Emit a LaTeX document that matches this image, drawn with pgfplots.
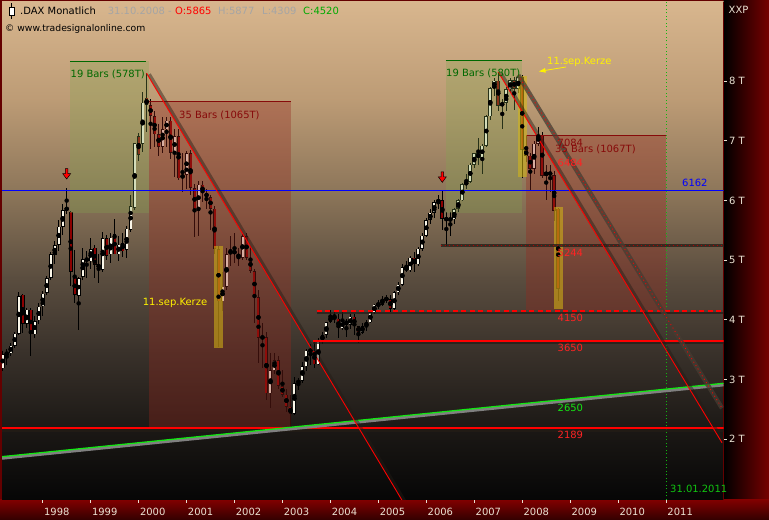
\documentclass[border=0pt]{standalone}
\usepackage{pgfplots}
\pgfplotsset{compat=1.18}
\usepackage{pgfplotstable}
\usepackage{fontspec}
\setmainfont{DejaVu Sans}
\usetikzlibrary{arrows.meta}

\definecolor{framec}{RGB}{100,0,0}
\definecolor{bg0}{RGB}{216,182,142}
\definecolor{bg1}{RGB}{188,155,117}
\definecolor{bg2}{RGB}{136,114,87}
\definecolor{bg3}{RGB}{90,77,63}
\definecolor{bg4}{RGB}{58,50,43}
\definecolor{bg5}{RGB}{27,24,21}
\definecolor{bg6}{RGB}{6,6,6}
\definecolor{upc}{RGB}{250,246,232}
\definecolor{dnc}{RGB}{140,0,0}
\definecolor{greenreg}{RGB}{130,165,80}
\definecolor{redreg}{RGB}{150,40,30}
\definecolor{boxc}{RGB}{215,185,20}
\definecolor{dkgreen}{RGB}{0,105,0}
\definecolor{dkred}{RGB}{135,10,10}
\definecolor{lred}{RGB}{255,35,35}
\definecolor{lgreen}{RGB}{20,230,20}
\definecolor{tickc}{RGB}{235,225,210}
\definecolor{shadowc}{RGB}{35,28,22}
\definecolor{bandc}{RGB}{70,60,50}
\definecolor{lvlc}{RGB}{45,36,28}
\definecolor{hgray}{RGB}{165,165,165}
\definecolor{hgreen}{RGB}{0,170,0}

\newcommand{\f}{\fontsize{10}{12}\selectfont}

% monthly DAX candles, t = months since Jan 1997
\pgfplotstableread{
t o h l c
2 3190 3480 3150 3430
3 3430 3520 3250 3440
4 3440 3620 3400 3570
5 3570 3800 3530 3770
6 3770 4460 3740 4400
7 4420 4440 3780 3930
8 3930 4200 3860 4170
9 4170 4200 3390 3760
10 3760 4060 3690 3980
11 3990 4290 3930 4220
12 4230 4490 4070 4440
13 4450 4740 4410 4700
14 4700 5130 4660 5100
15 5090 5320 4930 5250
16 5260 5680 5160 5560
17 5560 5940 5420 5840
18 5850 6217 5780 5870
19 5810 5830 4560 4810
20 4720 5170 4280 4420
21 4400 4720 3833 4700
22 4720 5200 4660 5020
23 5020 5150 4700 5000
24 4980 5380 4850 5180
25 5210 5250 4700 4920
26 4930 5100 4610 4870
27 4840 5480 4800 5370
28 5370 5420 5000 5070
29 5100 5450 4950 5380
30 5440 5690 5100 5100
31 5100 5400 4980 5260
32 5290 5460 5050 5150
33 5170 5580 5040 5530
34 5510 6100 5480 5900
35 5880 6960 5840 6958
36 7080 7130 6660 6770
37 6950 7820 6820 7640
38 7720 8136 7150 7600
39 7600 7700 6870 7414
40 7414 7500 6900 7110
41 7110 7280 6750 6898
42 6898 7400 6800 7192
43 7192 7400 6900 7335
44 7335 7400 6700 6798
45 6798 7200 6400 7078
46 7078 7200 6350 6372
47 6372 6800 6150 6434
48 6434 6830 6200 6795
49 6795 6850 6100 6208
50 6208 6280 5390 5830
51 5830 6320 5400 6265
52 6265 6330 5980 6123
53 6123 6200 5850 6058
54 6058 6100 5500 5862
55 5862 5900 5100 5188
56 5188 5236 3540 4308
57 4308 4800 4150 4559
58 4559 5200 4500 5103
59 5103 5400 4900 5160
60 5160 5450 4950 5108
61 5108 5200 4900 5039
62 5039 5460 5000 5397
63 5397 5450 5000 5041
64 5041 5240 4780 4818
65 4818 4850 3950 4383
66 4383 4500 3270 3700
67 3700 3950 3200 3712
68 3712 3800 2650 2769
69 2769 3450 2520 3153
70 3153 3450 3100 3320
71 3320 3400 2850 2893
72 2893 3160 2700 2748
73 2748 2850 2450 2547
74 2547 2750 2189 2424
75 2424 3050 2400 2942
76 2942 3030 2820 2983
77 2983 3300 2950 3221
78 3221 3520 3150 3487
79 3487 3600 3250 3485
80 3485 3650 3200 3257
81 3257 3700 3250 3655
82 3655 3800 3600 3746
83 3746 3970 3700 3965
84 3965 4160 3950 4058
85 4058 4170 3950 4018
86 4018 4100 3690 3857
87 3857 4150 3830 3985
88 3985 4010 3710 3921
89 3921 4100 3850 4053
90 4053 4100 3750 3895
91 3895 3900 3620 3785
92 3785 3950 3760 3893
93 3893 4000 3810 3960
94 3960 4150 3950 4126
95 4126 4270 4100 4256
96 4256 4330 4190 4255
97 4255 4400 4240 4350
98 4350 4420 4280 4349
99 4349 4420 4130 4185
100 4185 4480 4150 4461
101 4461 4640 4420 4587
102 4587 4930 4570 4887
103 4887 4980 4800 4830
104 4830 5070 4800 5044
105 5044 5140 4800 4929
106 4929 5220 4900 5193
107 5193 5460 5160 5408
108 5408 5700 5390 5674
109 5674 5860 5600 5796
110 5796 6000 5700 5970
111 5970 6090 5850 6009
112 6009 6162 5500 5692
113 5692 5800 5244 5683
114 5683 5800 5400 5682
115 5682 5880 5600 5859
116 5859 6020 5800 6005
117 6005 6300 5990 6269
118 6269 6450 6200 6309
119 6309 6620 6290 6597
120 6597 6800 6550 6789
121 6789 7040 6600 6716
122 6716 6950 6440 6917
123 6917 7430 6900 7409
124 7409 7900 7350 7883
125 7883 8060 7750 8007
126 8007 8151 7500 7584
127 7584 7700 7200 7638
128 7638 7900 7500 7862
129 7862 8060 7800 8019
130 8019 8070 7520 7871
131 7871 8100 7800 8067
132 8067 8100 6384 6852
133 6852 7100 6650 6748
134 6748 6800 6167 6535
135 6535 6990 6450 6949
136 6949 7230 6920 7097
137 7097 7150 6380 6418
138 6418 6600 6000 6480
139 6480 6600 6150 6422
140 6422 6500 5650 5831
141 5865 5877 4309 4520
}\dax

\pgfdeclareplotmark{dnarrow}{%
  \pgfpathmoveto{\pgfqpoint{-1.3pt}{19pt}}%
  \pgfpathlineto{\pgfqpoint{1.3pt}{19pt}}%
  \pgfpathlineto{\pgfqpoint{1.3pt}{14pt}}%
  \pgfpathlineto{\pgfqpoint{4pt}{14pt}}%
  \pgfpathlineto{\pgfqpoint{0pt}{8.5pt}}%
  \pgfpathlineto{\pgfqpoint{-4pt}{14pt}}%
  \pgfpathlineto{\pgfqpoint{-1.3pt}{14pt}}%
  \pgfpathclose
  \pgfusepathqfillstroke}

\begin{document}
\begin{tikzpicture}[x=1bp,y=1bp]
\useasboundingbox (0,0) rectangle (769,520);
% frame and bands
\fill[framec] (0,0) rectangle (769,520);
\shade[left color=black, middle color={rgb,255:red,25;green,0;blue,0}, right color={rgb,255:red,118;green,0;blue,0}] (723.5,20) rectangle (769,520);
\shade[top color={rgb,255:red,128;green,0;blue,0}, bottom color={rgb,255:red,50;green,0;blue,0}] (0,0) rectangle (769,20);
% plot background
\shade[top color=bg0, bottom color=bg1] (2,419.5) rectangle (723.5,518);
\shade[top color=bg1, bottom color=bg2] (2,319.5) rectangle (723.5,420);
\shade[top color=bg2, bottom color=bg3] (2,241.5) rectangle (723.5,320);
\shade[top color=bg3, bottom color=bg4] (2,169.5) rectangle (723.5,242);
\shade[top color=bg4, bottom color=bg5] (2,89.5) rectangle (723.5,170);
\shade[top color=bg5, bottom color=bg6] (2,20) rectangle (723.5,90);
\draw[framec, line width=0.8] (723.5,20) -- (723.5,518);

\begin{axis}[
  at={(2bp,20bp)}, anchor=south west,
  width=721.5bp, height=498bp, scale only axis,
  xmin=1.815, xmax=182.37, ymin=983, ymax=9325,
  axis x line*=bottom, axis y line*=right,
  axis line style={draw=none},
  xtick={12,24,36,48,60,72,84,96,108,120,132,144,156,168},
  xticklabels={1998,1999,2000,2001,2002,2003,2004,2005,2006,2007,2008,2009,2010,2011},
  ytick={2000,3000,4000,5000,6000,7000,8000},
  yticklabels={2 T,3 T,4 T,5 T,6 T,7 T,8 T},
  tick align=outside, major tick length=3bp,
  tick style={color=tickc, line width=0.9bp},
  xticklabel style={anchor=north west, font=\f, text=tickc, inner xsep=1.2bp, yshift=-2bp},
  yticklabel style={anchor=west, font=\f, text=tickc, inner xsep=2.5bp},
]
% wicks
\addplot[only marks, mark=none, forget plot,
  error bars/.cd, y dir=both, y explicit, error mark=none,
  error bar style={black, line width=0.9bp}]
  table[x=t, y expr={(\thisrow{h}+\thisrow{l})/2}, y error expr={(\thisrow{h}-\thisrow{l})/2}] {\dax};
% body outlines
\addplot[only marks, mark=none, forget plot,
  error bars/.cd, y dir=both, y explicit, error mark=none,
  error bar style={black, line width=3.7bp}]
  table[x=t, y expr={(\thisrow{o}+\thisrow{c})/2}, y error expr={max(abs(\thisrow{c}-\thisrow{o})/2,14)}] {\dax};
% rising bodies
\addplot[only marks, mark=none, forget plot,
  error bars/.cd, y dir=both, y explicit, error mark=none,
  error bar style={upc, line width=2bp}]
  table[x=t, y expr={\thisrow{c}<\thisrow{o} ? nan : (\thisrow{o}+\thisrow{c})/2}, y error expr={max(abs(\thisrow{c}-\thisrow{o})/2-10,4)}] {\dax};
% falling bodies
\addplot[only marks, mark=none, forget plot,
  error bars/.cd, y dir=both, y explicit, error mark=none,
  error bar style={dnc, line width=2bp}]
  table[x=t, y expr={\thisrow{c}<\thisrow{o} ? (\thisrow{o}+\thisrow{c})/2 : nan}, y error expr={max(abs(\thisrow{c}-\thisrow{o})/2-10,4)}] {\dax};

% bar-count regions
\fill[greenreg, opacity=0.3] (axis cs:18.83,5791) rectangle (axis cs:38.6,8336);
\fill[redreg, opacity=0.35] (axis cs:38.6,2200) rectangle (axis cs:74.15,7650);
\fill[greenreg, opacity=0.3] (axis cs:112.9,5791) rectangle (axis cs:131.9,8353);
\fill[redreg, opacity=0.35] (axis cs:132.95,4160) rectangle (axis cs:167.98,7084);
\draw[dkgreen, line width=1bp] (axis cs:18.83,8336) -- (axis cs:37.9,8336);
\draw[dkgreen, line width=1bp] (axis cs:112.9,8353) -- (axis cs:131.9,8353);
\draw[dkred, line width=1bp] (axis cs:38.6,7650) -- (axis cs:74.15,7650);
\draw[dkred, line width=1bp] (axis cs:132.95,7084) -- (axis cs:167.98,7084);

% 11. Sep candles
\fill[boxc, opacity=0.55] (axis cs:54.9,3534) rectangle (axis cs:57.1,5238);
\fill[boxc, opacity=0.55] (axis cs:130.9,6394) rectangle (axis cs:133.3,8085);
\fill[boxc, opacity=0.55] (axis cs:139.95,4183) rectangle (axis cs:142.2,5896);

% time marker
\draw[lgreen!80!black, line width=0.8bp, dash pattern=on 1bp off 2.5bp] (axis cs:168,983) -- (axis cs:168,9325);

% horizontal levels
\draw[blue, line width=1bp] (axis cs:1.815,6162) -- (axis cs:182.37,6162);
\draw[shadowc, line width=3bp, opacity=0.8, yshift=-2.5bp] (axis cs:1.815,2189) -- (axis cs:182.37,2189);
\draw[red, line width=2bp] (axis cs:1.815,2189) -- (axis cs:182.37,2189);
\draw[shadowc, line width=2.5bp, opacity=0.7, yshift=-2.2bp] (axis cs:79.6,3650) -- (axis cs:182.37,3650);
\draw[red, line width=1.6bp] (axis cs:79.6,3650) -- (axis cs:182.37,3650);
\draw[shadowc, line width=2.5bp, opacity=0.7, yshift=-2.2bp] (axis cs:80.6,4150) -- (axis cs:182.37,4150);
\draw[red, line width=1.6bp, dash pattern=on 5bp off 3.5bp] (axis cs:80.6,4150) -- (axis cs:182.37,4150);
\draw[lvlc, line width=2.5bp, opacity=0.85] (axis cs:111.6,5244) -- (axis cs:182.37,5244);
\draw[red!70!black, line width=0.8bp, dash pattern=on 1bp off 3bp] (axis cs:111.6,5244) -- (axis cs:182.37,5244);

% rising support line
\draw[gray, line width=3bp, yshift=-1.6bp] (axis cs:1.815,1709) -- (axis cs:182.37,2938);
\draw[lgreen, line width=1.3bp] (axis cs:1.815,1709) -- (axis cs:182.37,2938);

% falling trend lines
\draw[shadowc, opacity=0.45, line width=3.5bp, xshift=2.6bp, yshift=-1bp] (axis cs:38,8131) -- (axis cs:110,74);
\draw[red, line width=0.9bp] (axis cs:38,8131) -- (axis cs:110,74);
\draw[shadowc, opacity=0.45, line width=3.5bp, xshift=2.6bp, yshift=-1bp] (axis cs:126,8151) -- (axis cs:182,1941);
\draw[red, line width=0.9bp] (axis cs:126,8151) -- (axis cs:182,1941);
\draw[bandc, opacity=0.75, line width=4.5bp] (axis cs:131,8100) -- (axis cs:182,2520);
\draw[red, line width=0.8bp, dash pattern=on 1bp off 3bp] (axis cs:131,8100) -- (axis cs:182,2520);

% peak arrows
\addplot[only marks, mark=dnarrow, mark options={fill=red, draw=black, line width=0.5bp}] coordinates {(18,6217) (112,6162)};
\end{axis}

% labels in the plot
\node[anchor=west, inner sep=0, text=dkgreen, font=\f] at (70.5,445.7) {19 Bars (578T)};
\node[anchor=west, inner sep=0, text=dkred, font=\f] at (179,405) {35 Bars (1065T)};
\node[anchor=west, inner sep=0, text=dkgreen, font=\f] at (446,446.7) {19 Bars (580T)};
\node[anchor=west, inner sep=0, text=dkred, font=\f] at (555,370.7) {35 Bars (1067T)};
\node[anchor=west, inner sep=0, text=dkred, font=\f] at (557.5,377.5) {7084};
\node[anchor=west, inner sep=0, text=lred, font=\f] at (557.5,356.7) {6484};
\node[anchor=west, inner sep=0, text=lred, font=\f] at (557.5,266.7) {5244};
\node[anchor=west, inner sep=0, text=lred, font=\f] at (557.5,202.3) {4150};
\node[anchor=west, inner sep=0, text=lred, font=\f] at (557.5,171.7) {3650};
\node[anchor=west, inner sep=0, text=lgreen, font=\f] at (557.5,112.3) {2650};
\node[anchor=west, inner sep=0, text=lred, font=\f] at (557.5,85) {2189};
\node[anchor=west, inner sep=0, text=blue, font=\f] at (682,337.3) {6162};
\node[anchor=west, inner sep=0, text=lgreen!85!black, font=\f] at (670,30.7) {31.01.2011};
\node[anchor=west, inner sep=0, text=yellow, font=\f] at (142.7,216.7) {11.sep.Kerze};
\node[anchor=west, inner sep=0, text=yellow, font=\f] at (547,458.3) {11.sep.Kerze};
\draw[yellow, line width=0.8bp, -{Latex[length=7bp,width=5bp]}] (566,453) -- (538.5,448.5);

% header
\draw[black, line width=0.7] (11.5,501) -- (11.5,517);
\filldraw[fill=white, draw=black, line width=0.7] (9,505) rectangle (14,513);
\node[anchor=west, inner sep=0, font=\f] at (20,509) {.DAX Monatlich};
\node[anchor=west, inner sep=0, font=\f, text=hgray] at (107.7,509) {31.10.2008 -};
\node[anchor=west, inner sep=0, font=\f, text=red] at (175,509) {O:5865};
\node[anchor=west, inner sep=0, font=\f, text=hgray] at (218,509) {H:5877};
\node[anchor=west, inner sep=0, font=\f, text=hgray] at (262,509) {L:4309};
\node[anchor=west, inner sep=0, font=\f, text=hgreen] at (303,509) {C:4520};
\node[anchor=west, inner sep=0, font=\fontsize{9.3}{11}\selectfont] at (5,490.7) {© www.tradesignalonline.com};
\node[anchor=west, inner sep=0, font=\f, text=tickc] at (728.5,510) {XXP};
\end{tikzpicture}
\end{document}
